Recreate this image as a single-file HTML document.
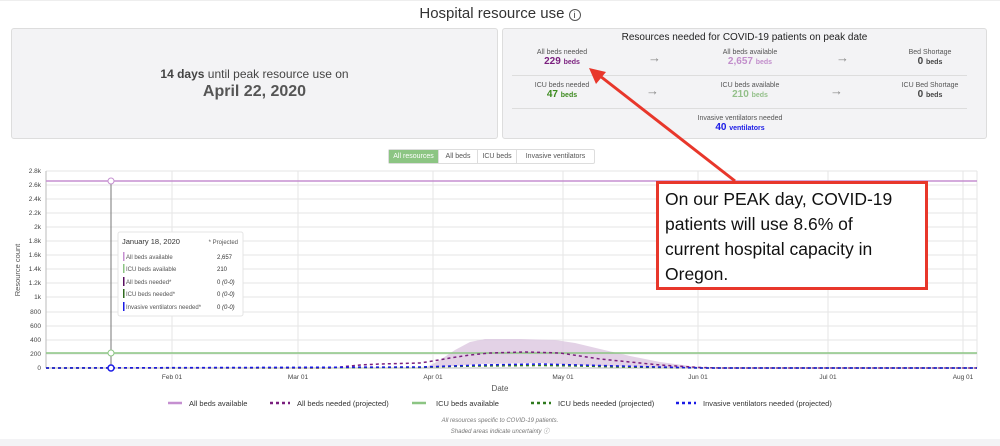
<!DOCTYPE html>
<html><head><meta charset="utf-8"><style>
body{margin:0;width:1000px;height:446px;background:#fff;font-family:"Liberation Sans",sans-serif;overflow:hidden;position:relative}
.abs{position:absolute}
.panel{position:absolute;background:#f3f3f5;border:1px solid #ddd;border-radius:3px}
.c{text-align:center}
</style></head><body>
<div class="abs" style="left:0;top:0;width:1000px;height:1px;background:#eee"></div>
<div class="abs c" style="left:0;top:5px;width:1000px;font-size:15px;color:#333">Hospital resource use <span style="border:1px solid #555;border-radius:50%;display:inline-block;width:10px;height:10px;line-height:10px;font-size:9px">i</span></div>
<div class="panel" style="left:11px;top:28px;width:485px;height:109px">
 <div class="c" style="margin-top:38px;font-size:12px;color:#444"><b>14 days</b> until peak resource use on</div>
 <div class="c" style="font-size:16px;font-weight:bold;color:#555;margin-top:2px">April 22, 2020</div>
</div>
<div class="panel" style="left:502px;top:28px;width:483px;height:109px"></div>
<div class="abs c" style="left:502px;top:32px;width:485px;font-size:10px;color:#222">Resources needed for COVID-19 patients on peak date</div>
<div class="abs" style="left:512px;top:75px;width:455px;height:1px;background:#ddd"></div>
<div class="abs" style="left:512px;top:108px;width:455px;height:1px;background:#ddd"></div>
<div class="abs c" style="left:512px;top:49px;width:100px;font-size:7px;color:#555">All beds needed<br><b style="font-size:10px;color:#7a1f7e">229 <span style="font-size:7px">beds</span></b></div>
<div class="abs c" style="left:700px;top:49px;width:100px;font-size:7px;color:#555">All beds available<br><b style="font-size:10px;color:#c28ecb">2,657 <span style="font-size:7px">beds</span></b></div>
<div class="abs c" style="left:880px;top:49px;width:100px;font-size:7px;color:#555">Bed Shortage<br><b style="font-size:10px;color:#444">0 <span style="font-size:7px">beds</span></b></div>
<div class="abs c" style="left:512px;top:82px;width:100px;font-size:7px;color:#555">ICU beds needed<br><b style="font-size:10px;color:#3c8a1e">47 <span style="font-size:7px">beds</span></b></div>
<div class="abs c" style="left:700px;top:82px;width:100px;font-size:7px;color:#555">ICU beds available<br><b style="font-size:10px;color:#94c08a">210 <span style="font-size:7px">beds</span></b></div>
<div class="abs c" style="left:880px;top:82px;width:100px;font-size:7px;color:#555">ICU Bed Shortage<br><b style="font-size:10px;color:#444">0 <span style="font-size:7px">beds</span></b></div>
<div class="abs c" style="left:690px;top:115px;width:100px;font-size:7px;color:#555">Invasive ventilators needed<br><b style="font-size:10px;color:#1a1ae6">40 <span style="font-size:7px">ventilators</span></b></div>
<div class="abs" style="left:648px;top:50px;color:#888;font-size:13px">→</div>
<div class="abs" style="left:836px;top:50px;color:#888;font-size:13px">→</div>
<div class="abs" style="left:646px;top:83px;color:#888;font-size:13px">→</div>
<div class="abs" style="left:830px;top:83px;color:#888;font-size:13px">→</div>
<div class="abs" style="left:388px;top:149px;height:13px;display:flex;font-size:7px;line-height:13px;border:1px solid #ddd;border-radius:2px;color:#555">
<div style="background:#8cc583;color:#fff;width:49px;text-align:center">All resources</div>
<div style="width:38px;text-align:center;border-left:1px solid #ddd">All beds</div>
<div style="width:38px;text-align:center;border-left:1px solid #ddd">ICU beds</div>
<div style="width:77px;text-align:center;border-left:1px solid #ddd">Invasive ventilators</div></div>
<svg class="abs" style="left:0;top:0" width="1000" height="446" font-family="Liberation Sans, sans-serif">
<g stroke="#e6e6e6" stroke-width="1">
<line x1="46" y1="171" x2="977" y2="171"/><line x1="46" y1="185" x2="977" y2="185"/><line x1="46" y1="199" x2="977" y2="199"/><line x1="46" y1="213" x2="977" y2="213"/><line x1="46" y1="227" x2="977" y2="227"/><line x1="46" y1="241" x2="977" y2="241"/><line x1="46" y1="255" x2="977" y2="255"/><line x1="46" y1="269" x2="977" y2="269"/><line x1="46" y1="283" x2="977" y2="283"/><line x1="46" y1="297" x2="977" y2="297"/><line x1="46" y1="312" x2="977" y2="312"/><line x1="46" y1="326" x2="977" y2="326"/><line x1="46" y1="340" x2="977" y2="340"/><line x1="46" y1="354" x2="977" y2="354"/>
<line x1="172" y1="171" x2="172" y2="368"/><line x1="298" y1="171" x2="298" y2="368"/><line x1="433" y1="171" x2="433" y2="368"/><line x1="563" y1="171" x2="563" y2="368"/><line x1="698" y1="171" x2="698" y2="368"/><line x1="828" y1="171" x2="828" y2="368"/><line x1="963" y1="171" x2="963" y2="368"/><line x1="977" y1="171" x2="977" y2="368"/>
</g>
<line x1="46" y1="171" x2="46" y2="368" stroke="#bbb"/><line x1="46" y1="368" x2="977" y2="368" stroke="#bbb"/>
<g font-size="6.5" fill="#444" text-anchor="end">
<text x="41" y="173">2.8k</text><text x="41" y="187">2.6k</text><text x="41" y="201">2.4k</text><text x="41" y="215">2.2k</text><text x="41" y="229">2k</text><text x="41" y="243">1.8k</text><text x="41" y="257">1.6k</text><text x="41" y="271">1.4k</text><text x="41" y="285">1.2k</text><text x="41" y="299">1k</text><text x="41" y="314">800</text><text x="41" y="328">600</text><text x="41" y="342">400</text><text x="41" y="356">200</text><text x="41" y="370">0</text></g>
<g font-size="6.5" fill="#444" text-anchor="middle">
<text x="172" y="379">Feb 01</text><text x="298" y="379">Mar 01</text><text x="433" y="379">Apr 01</text><text x="563" y="379">May 01</text><text x="698" y="379">Jun 01</text><text x="828" y="379">Jul 01</text><text x="963" y="379">Aug 01</text></g>
<text x="500" y="391" font-size="8" fill="#555" text-anchor="middle">Date</text>
<text x="20" y="270" font-size="7.5" fill="#555" text-anchor="middle" transform="rotate(-90 20 270)">Resource count</text>
<path d="M425,368 L440,360 L455,350 L470,342 L485,339 L520,339 L555,340 L575,343 L600,349 L630,356 L660,362 L690,366 L710,368 L600,366 L540,363 L480,364 L440,367 Z" fill="#dcc7e0" opacity="0.8"/>
<line x1="46" y1="181" x2="977" y2="181" stroke="#c58fd0" stroke-width="1.5"/>
<line x1="46" y1="353" x2="977" y2="353" stroke="#8cc583" stroke-width="1.5"/>
<polyline points="46,368 330,368 340,367 360,365 380,364 420,363 433,361 450,358 470,355 490,353 525,352 560,353 580,356 600,359 630,362 660,365 700,367.5 720,368 977,368" fill="none" stroke="#7a1f7e" stroke-width="1.5" stroke-dasharray="3,3"/>
<polyline points="46,368 420,367.5 450,366.5 480,366 540,365.5 580,366 620,367 700,368 977,368" fill="none" stroke="#2f7a1e" stroke-width="1.5" stroke-dasharray="3,3"/>
<polyline points="46,368 420,367 450,366 480,365 540,364 580,365 620,366 660,367 700,368 977,368" fill="none" stroke="#1a1ae6" stroke-width="1.5" stroke-dasharray="3,3"/>
<line x1="111" y1="181" x2="111" y2="368" stroke="#777" stroke-width="1"/>
<circle cx="111" cy="181" r="3" fill="#fff" stroke="#c58fd0"/>
<circle cx="111" cy="353" r="3" fill="#fff" stroke="#8cc583"/>
<circle cx="111" cy="368" r="3" fill="#fff" stroke="#1a1ae6" stroke-width="1.5"/>
<rect x="118" y="232" width="125" height="84" fill="#fff" stroke="#e4e4e4" rx="2"/>
<text x="122" y="244" font-size="7.5" fill="#333">January 18, 2020</text>
<text x="238" y="244" font-size="6" fill="#555" text-anchor="end">* Projected</text>
<g font-size="6" fill="#555">
<rect x="123" y="252" width="1.5" height="9" fill="#c58fd0"/><text x="126" y="259">All beds available</text><text x="217" y="259" fill="#333">2,657</text>
<rect x="123" y="264" width="1.5" height="9" fill="#8cc583"/><text x="126" y="271">ICU beds available</text><text x="217" y="271" fill="#333">210</text>
<rect x="123" y="277" width="1.5" height="9" fill="#5a0f60"/><text x="126" y="284">All beds needed*</text><text x="217" y="284" fill="#333">0 <tspan font-style="italic">(0-0)</tspan></text>
<rect x="123" y="289" width="1.5" height="9" fill="#2f6a1e"/><text x="126" y="296">ICU beds needed*</text><text x="217" y="296" fill="#333">0 <tspan font-style="italic">(0-0)</tspan></text>
<rect x="123" y="302" width="1.5" height="9" fill="#1a1ae6"/><text x="126" y="309">Invasive ventilators needed*</text><text x="217" y="309" fill="#333">0 <tspan font-style="italic">(0-0)</tspan></text>
</g>
<g font-size="7.5" fill="#333">
<line x1="168" y1="403" x2="182" y2="403" stroke="#c58fd0" stroke-width="2.5"/><text x="189" y="406">All beds available</text>
<line x1="270" y1="403" x2="290" y2="403" stroke="#7a1f7e" stroke-width="2.5" stroke-dasharray="3,3"/><text x="297" y="406">All beds needed (projected)</text>
<line x1="412" y1="403" x2="426" y2="403" stroke="#8cc583" stroke-width="2.5"/><text x="436" y="406">ICU beds available</text>
<line x1="531" y1="403" x2="551" y2="403" stroke="#2f7a1e" stroke-width="2.5" stroke-dasharray="3,3"/><text x="558" y="406">ICU beds needed (projected)</text>
<line x1="676" y1="403" x2="696" y2="403" stroke="#1a1ae6" stroke-width="2.5" stroke-dasharray="3,3"/><text x="703" y="406">Invasive ventilators needed (projected)</text>
</g>
<text x="500" y="422" font-size="6" fill="#777" font-style="italic" text-anchor="middle">All resources specific to COVID-19 patients.</text>
<text x="500" y="433" font-size="6" fill="#777" font-style="italic" text-anchor="middle">Shaded areas indicate uncertainty ⓘ</text>
<rect x="0" y="439" width="1000" height="7" fill="#f3f3f5"/>
<line x1="735" y1="181" x2="600" y2="76" stroke="#e8372b" stroke-width="3"/>
<polygon points="589,68 606,72 596,84" fill="#e8372b"/>
<rect x="657.5" y="182.5" width="269" height="106" fill="#fff" stroke="#e8372b" stroke-width="3"/>
<g font-size="17.5" fill="#111"><text x="665" y="205">On our PEAK day, COVID-19</text><text x="665" y="230">patients will use 8.6% of</text><text x="665" y="255">current hospital capacity in</text><text x="665" y="280">Oregon.</text></g>
</svg>
</body></html>
